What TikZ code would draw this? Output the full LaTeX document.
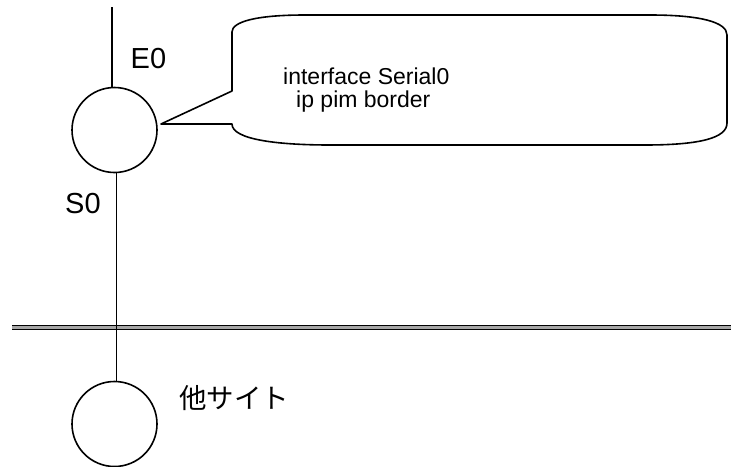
\documentclass[tikz,border=0pt]{standalone}
\usepackage{fontspec}
\setmainfont{Liberation Sans}
\newfontfamily\jpfont{Noto Sans CJK JP}
\begin{document}
\begin{tikzpicture}[x=1pt,y=-1pt,
  ln/.style={line width=1.6pt,black},
  site/.style={circle,draw,line width=1.6pt,minimum size=85pt,inner sep=0pt},
  lbl/.style={inner sep=0pt,anchor=base west,font=\fontsize{29}{29}\selectfont},
  note/.style={inner sep=0pt,anchor=base west,font=\fontsize{23}{23}\selectfont}]
\useasboundingbox (0,0) rectangle (731,466);
% double boundary line
\draw[line width=3pt,gray!70] (12,327.5) -- (731,327.5);
\draw[line width=0.9pt] (12,325.8) -- (731,325.8);
\draw[line width=0.9pt] (12,329.2) -- (731,329.2);
% routers
\node[site] (r1) at (114.5,130) {};
\node[site] (r2) at (114.5,424) {};
\coordinate (top) at (112,7);
\draw[ln] (top) -- (top |- r1.north);
\coordinate (a) at (116.5,0);
\draw[ln] (a |- r1.south) -- (a |- r2.north);
% labels
\node[lbl] (e0) at (130.5,68) {E0};
\node[lbl] (s0) at (65,213) {S0};
\node[inner sep=0pt,anchor=west,font=\jpfont\fontsize{27.5}{27.5}\selectfont] (other) at (179,398) {他サイト};
% callout
\coordinate (tip) at (161,124);
\draw[line width=1.6pt,line join=round]
  (232,91) -- (tip) -- (232,124)
  .. controls (232,140) and (280,145) .. (330,145)
  -- (645,145)
  .. controls (700,145) and (727,138) .. (727,123)
  -- (727,35)
  .. controls (727,22) and (700,15) .. (650,15)
  -- (305,15)
  .. controls (255,15) and (232,22) .. (232,32)
  -- cycle;
\node[note] (n1) at (283,84) {interface Serial0};
\node[note] (n2) at (296,107) {ip pim border};
\end{tikzpicture}
\end{document}
